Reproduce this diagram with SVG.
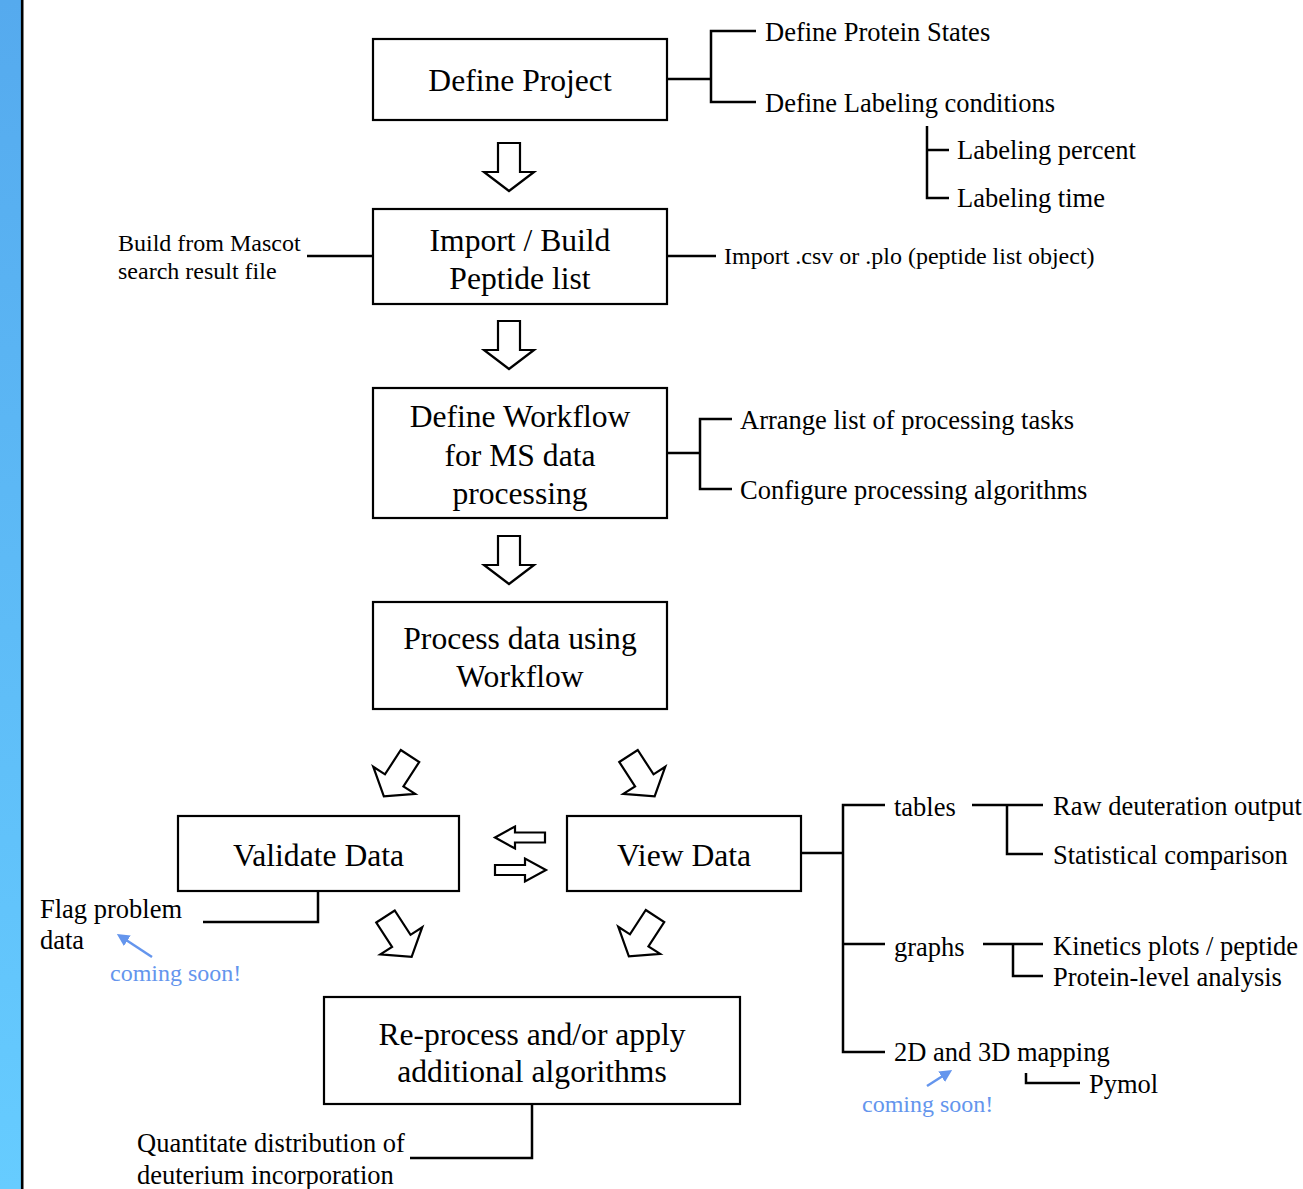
<svg xmlns="http://www.w3.org/2000/svg" width="1303" height="1189" viewBox="0 0 1303 1189">
<defs>
<linearGradient id="bar" x1="0" y1="0" x2="0" y2="1">
<stop offset="0" stop-color="#55aaee"/>
<stop offset="1" stop-color="#66ccff"/>
</linearGradient>
<path id="arr" d="M-11,0 L11,0 L11,29 L25,29 L0,48 L-25,29 L-11,29 Z"/>
<marker id="bhead" viewBox="0 0 10 10" refX="7" refY="5" markerWidth="5" markerHeight="5" orient="auto">
<path d="M0,0 L10,5 L0,10 Z" fill="#6495ed"/>
</marker>
<style>
.box{fill:#fff;stroke:#000;stroke-width:2.2}
.bt{font-family:"Liberation Serif","Times New Roman",serif;font-size:31.6px;fill:#000;text-anchor:middle}
.lt{font-family:"Liberation Serif","Times New Roman",serif;font-size:26.5px;fill:#000}
.st{font-family:"Liberation Serif","Times New Roman",serif;font-size:24px;fill:#000}
.cs{font-family:"Liberation Serif","Times New Roman",serif;font-size:24px;fill:#6495ed}
.ln{fill:none;stroke:#000;stroke-width:2.5}
.ar{fill:#fff;stroke:#000;stroke-width:2.2;stroke-linejoin:miter}
.bl{fill:none;stroke:#6495ed;stroke-width:2.5}
</style>
</defs>
<rect x="0" y="0" width="1303" height="1189" fill="#fff"/>
<rect x="0" y="0" width="21" height="1189" fill="url(#bar)"/>
<line x1="22.2" y1="0" x2="22.2" y2="1189" stroke="#000" stroke-width="2.6"/>

<g id="connectors">
<polyline class="ln" points="667,79 711,79"/>
<polyline class="ln" points="756,31 711,31 711,102 756,102"/>
<polyline class="ln" points="927,126 927,198 949,198"/>
<polyline class="ln" points="927,150 949,150"/>
<polyline class="ln" points="307,256 373,256"/>
<polyline class="ln" points="667,256 716,256"/>
<polyline class="ln" points="667,453 700,453"/>
<polyline class="ln" points="732,419 700,419 700,489 732,489"/>
<polyline class="ln" points="318,891 318,922 203,922"/>
<polyline class="ln" points="532,1104 532,1158 410,1158"/>
<polyline class="ln" points="801,853 843,853"/>
<polyline class="ln" points="885,805 843,805 843,1052 885,1052"/>
<polyline class="ln" points="843,944 885,944"/>
<polyline class="ln" points="972,805 1043,805"/>
<polyline class="ln" points="1007,805 1007,854 1043,854"/>
<polyline class="ln" points="983,944 1043,944"/>
<polyline class="ln" points="1013,944 1013,976 1043,976"/>
<polyline class="ln" points="1026,1073 1026,1083 1080,1083"/>
<line class="bl" x1="152" y1="957" x2="120" y2="936" marker-end="url(#bhead)"/>
<line class="bl" x1="927" y1="1086" x2="949" y2="1072" marker-end="url(#bhead)"/>
<use href="#arr" class="ar" transform="translate(509,143)"/>
<use href="#arr" class="ar" transform="translate(509,321)"/>
<use href="#arr" class="ar" transform="translate(509,536)"/>
<use href="#arr" class="ar" transform="translate(410,756) rotate(33)"/>
<use href="#arr" class="ar" transform="translate(628.5,756) rotate(-33)"/>
<use href="#arr" class="ar" transform="translate(385.5,916.5) rotate(-33)"/>
<use href="#arr" class="ar" transform="translate(655,916) rotate(33)"/>
<path class="ar" d="M545,832.5 L515,832.5 L515,826.5 L495,837.5 L515,848.5 L515,842.5 L545,842.5 Z"/>
<path class="ar" d="M495,865 L525,865 L525,858.5 L546,870 L525,881.5 L525,875 L495,875 Z"/>
</g>

<g id="define-project">
<rect class="box" x="373" y="39" width="294" height="81"/>
<text class="bt" x="520" y="91">Define Project</text>
</g>
<g id="import-build">
<rect class="box" x="373" y="209" width="294" height="95"/>
<text class="bt" x="520" y="251">Import / Build</text>
<text class="bt" x="520" y="289">Peptide list</text>
</g>
<g id="define-workflow">
<rect class="box" x="373" y="388" width="294" height="130"/>
<text class="bt" x="520" y="427">Define Workflow</text>
<text class="bt" x="520" y="466">for MS data</text>
<text class="bt" x="520" y="504">processing</text>
</g>
<g id="process-data">
<rect class="box" x="373" y="602" width="294" height="107"/>
<text class="bt" x="520" y="649">Process data using</text>
<text class="bt" x="520" y="687">Workflow</text>
</g>
<g id="validate-data">
<rect class="box" x="178" y="816" width="281" height="75"/>
<text class="bt" x="318.5" y="866">Validate Data</text>
</g>
<g id="view-data">
<rect class="box" x="567" y="816" width="234" height="75"/>
<text class="bt" x="684" y="866">View Data</text>
</g>
<g id="reprocess">
<rect class="box" x="324" y="997" width="416" height="107"/>
<text class="bt" x="532" y="1045">Re-process and/or apply</text>
<text class="bt" x="532" y="1082">additional algorithms</text>
</g>

<g id="labels">
<text class="lt" x="765" y="41">Define Protein States</text>
<text class="lt" x="765" y="112">Define Labeling conditions</text>
<text class="lt" x="957" y="159">Labeling percent</text>
<text class="lt" x="957" y="207">Labeling time</text>
<text class="st" x="118" y="251">Build from Mascot</text>
<text class="st" x="118" y="279">search result file</text>
<text class="st" x="724" y="264">Import .csv or .plo (peptide list object)</text>
<text class="lt" x="740" y="429">Arrange list of processing tasks</text>
<text class="lt" x="740" y="499">Configure processing algorithms</text>
<text class="lt" x="40" y="918">Flag problem</text>
<text class="lt" x="40" y="949">data</text>
<text class="cs" x="110" y="981">coming soon!</text>
<text class="lt" x="137" y="1152">Quantitate distribution of</text>
<text class="lt" x="137" y="1184">deuterium incorporation</text>
<text class="lt" x="894" y="816">tables</text>
<text class="lt" x="894" y="956">graphs</text>
<text class="lt" x="894" y="1061">2D and 3D mapping</text>
<text class="lt" x="1053" y="815">Raw deuteration output</text>
<text class="lt" x="1053" y="864">Statistical comparison</text>
<text class="lt" x="1053" y="955">Kinetics plots / peptide</text>
<text class="lt" x="1053" y="986">Protein-level analysis</text>
<text class="lt" x="1089" y="1093">Pymol</text>
<text class="cs" x="862" y="1112">coming soon!</text>
</g>
</svg>
